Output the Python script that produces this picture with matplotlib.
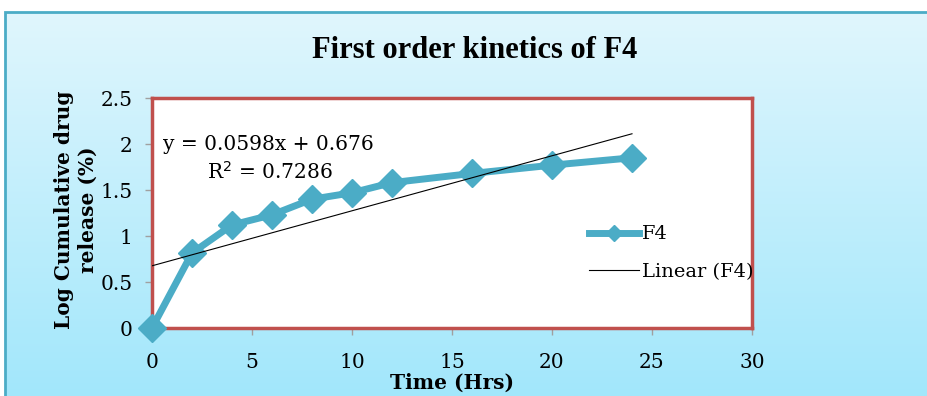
import numpy as np
import matplotlib.pyplot as plt
from matplotlib.patches import Rectangle
from matplotlib.colors import LinearSegmentedColormap

# release data for formulation F4
time_hrs = [0, 2, 4, 6, 8, 10, 12, 16, 20, 24]
log_release = [0.0, 0.815, 1.12, 1.23, 1.40, 1.47, 1.58, 1.68, 1.77, 1.85]

# trendline reported for the series
slope = 0.0598
intercept = 0.676
r_squared = 0.7286

blue = '#4bacc6'
red = '#c0504d'
serif = 'DejaVu Serif'

fig = plt.figure(figsize=(9.28, 3.96), dpi=100)

# gradient background with a blue frame
bg = fig.add_axes([0, 0, 1, 1], zorder=-10)
bg.set_xlim(0, 1)
bg.set_ylim(0, 1)
grad = np.linspace(0, 1, 256).reshape(-1, 1)
cmap = LinearSegmentedColormap.from_list('bg', ['#e0f6fd', '#a2e7fb'])
bg.imshow(grad, extent=[5 / 928, 1, 0, 1 - 12 / 396], cmap=cmap, aspect='auto', origin='upper')
bg.add_patch(Rectangle((5 / 928, -0.01), 1.0, 1 - 12 / 396 + 0.01, fill=False,
                       edgecolor=blue, lw=2))
bg.axis('off')

ax = fig.add_axes([152 / 928, 1 - 328 / 396, 600 / 928, 230 / 396])
ax.set_facecolor('white')

ax.plot(time_hrs, log_release, color=blue, lw=5, marker='D', markersize=14,
        label='F4', zorder=3, clip_on=False)

xt = np.array([0, 24])
ax.plot(xt, slope * xt + intercept, color='black', lw=0.8, label='Linear (F4)', zorder=4)

ax.set_xlim(0, 30)
ax.set_ylim(0, 2.5)
ax.set_xticks([0, 5, 10, 15, 20, 25, 30])
ax.set_yticks([0, 0.5, 1, 1.5, 2, 2.5])
ax.set_yticklabels(['0', '0.5', '1', '1.5', '2', '2.5'])
for s in ax.spines.values():
    s.set_color(red)
    s.set_linewidth(2.5)
ax.tick_params(direction='out', length=5, color='#a0a0a0', width=1, labelsize=14.5, pad=9)
ax.tick_params(axis='x', pad=13)
for lab in ax.get_xticklabels() + ax.get_yticklabels():
    lab.set_family(serif)

ax.text(0.55, 1.99, 'y = 0.0598x + 0.676', fontsize=14.5, family=serif,
        va='center', zorder=5)
ax.text(2.75, 1.70, 'R$^2$ = 0.7286', fontsize=14.5, family=serif,
        va='center', zorder=5)

ax.legend(loc='upper left', bbox_to_anchor=(0.715, 0.48), frameon=False,
          prop={'family': serif, 'size': 14}, handlelength=2.6, handletextpad=0.15,
          labelspacing=1.0, borderaxespad=0, markerscale=0.55)

fig.text(475 / 928, 1 - 50 / 396, 'First order kinetics of F4', ha='center', va='center',
         fontsize=22, fontweight='bold', family='Liberation Serif')
fig.text(452 / 928, 1 - 383 / 396, 'Time (Hrs)', ha='center', va='center',
         fontsize=14.5, fontweight='bold', family=serif)
fig.text(76 / 928, 1 - 210 / 396, 'Log Cumulative drug\nrelease (%)', ha='center',
         va='center', rotation=90, fontsize=14.5, fontweight='bold', family=serif,
         linespacing=1.2)

fig.savefig('out.png', dpi=100)
